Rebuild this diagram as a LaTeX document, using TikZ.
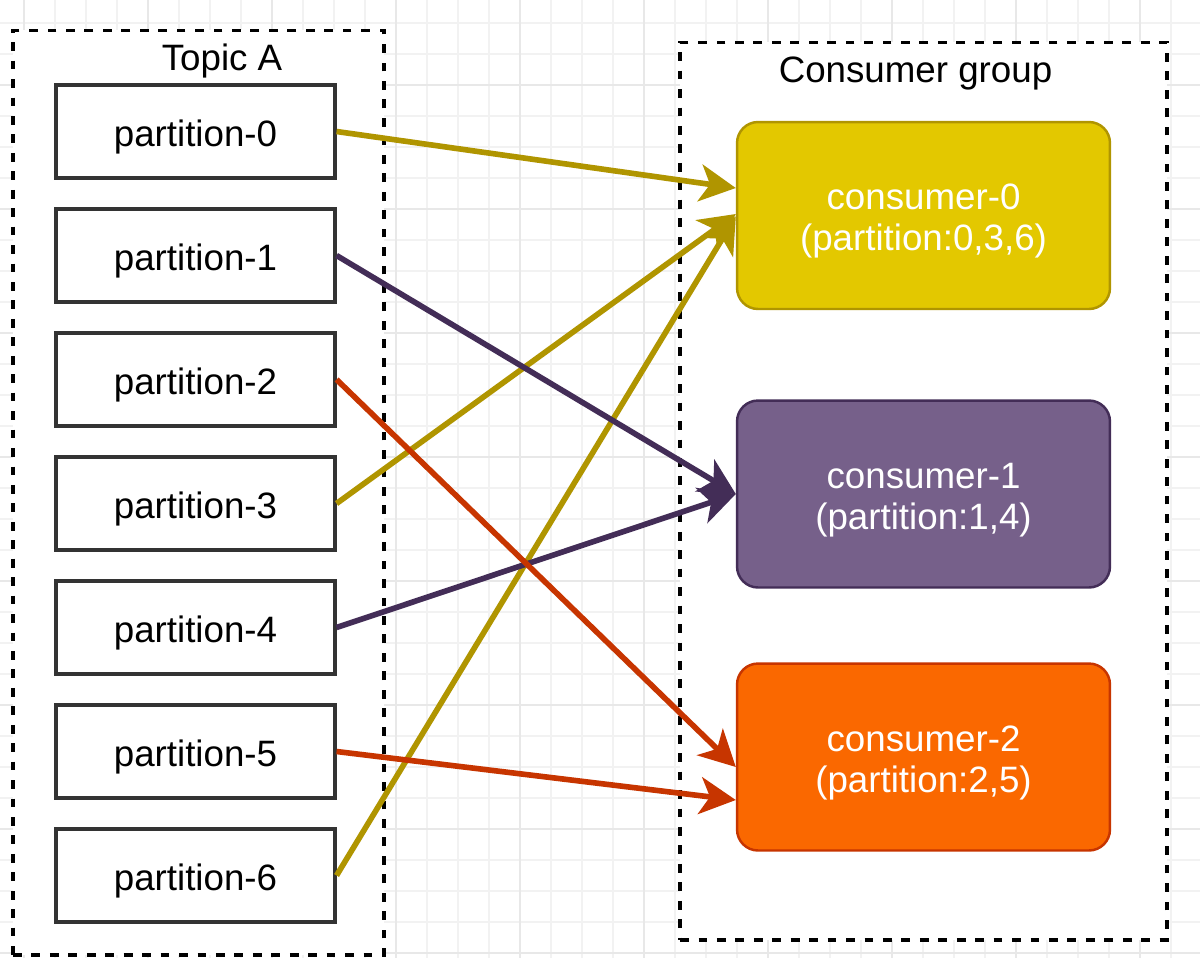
\documentclass[tikz,border=0pt]{standalone}
\usepackage{fontspec}
\setmainfont{Liberation Sans}
\usepackage{xcolor}
\usetikzlibrary{arrows.meta}

\definecolor{yellowfill}{HTML}{E3C800}
\definecolor{yellowline}{HTML}{B09500}
\definecolor{purplefill}{HTML}{76608A}
\definecolor{purpleline}{HTML}{432D57}
\definecolor{orangefill}{HTML}{FA6800}
\definecolor{orangeline}{HTML}{C73500}

\begin{document}
\begin{tikzpicture}[
    x=0.02cm, y=-0.02cm,
    every node/.style={font=\fontsize{20.9}{23.3}\selectfont},
    gridline/.style={draw=black!5, line width=0.6pt},
    gridmajor/.style={draw=black!9, line width=0.6pt},
    group/.style={rectangle, draw, fill=white, dash pattern=on 5pt off 5.5pt, line width=1.8pt},
    part/.style={rectangle, draw=black!80, fill=white, line width=1.8pt, minimum width=5.58cm, minimum height=1.86cm, inner sep=0pt, text height=20.9pt, text depth=4.4pt},
    consumer/.style={rectangle, rounded corners=0.42cm, line width=1.4pt, minimum width=7.46cm, minimum height=3.74cm, align=center, text=white, text height=44.6pt, text depth=4.4pt},
    feed/.style={-{Stealth[length=0.72cm, width=0.74cm, inset=0.2cm]}, line width=3.2pt},
]

\useasboundingbox[fill=white] (0,0) rectangle (1200,958);

% background grid
\foreach \gx in {24,55,...,1200} \draw[gridline] (\gx,0) -- (\gx,958);
\foreach \gy in {23,54,...,958} \draw[gridline] (0,\gy) -- (1200,\gy);
\foreach \gx in {24,148,...,1200} \draw[gridmajor] (\gx,0) -- (\gx,958);
\foreach \gy in {85,209,...,958} \draw[gridmajor] (0,\gy) -- (1200,\gy);

% groups
\node[group, minimum width=7.42cm, minimum height=18.5cm] (topic) at (198.5, 492.5) {};
\node[anchor=base] (topiclabel) at (222, 70) {Topic A};
\node[group, minimum width=9.74cm, minimum height=17.96cm] (cgroup) at (923.5, 491) {};
\node[anchor=base] (cgrouplabel) at (915.5, 82) {Consumer group};

% partitions
\node[part] (p0) at (195.5, 131.5) {partition-0};
\node[part] (p1) at (195.5, 255.5) {partition-1};
\node[part] (p2) at (195.5, 379.5) {partition-2};
\node[part] (p3) at (195.5, 503.5) {partition-3};
\node[part] (p4) at (195.5, 627.5) {partition-4};
\node[part] (p5) at (195.5, 751.5) {partition-5};
\node[part] (p6) at (195.5, 875.5) {partition-6};

% consumers
\node[consumer, fill=yellowfill, draw=yellowline] (c0) at (923.5, 215.5) {consumer-0\\(partition:0,3,6)};
\node[consumer, fill=purplefill, draw=purpleline] (c1) at (923.5, 494) {consumer-1\\(partition:1,4)};
\node[consumer, fill=orangefill, draw=orangeline] (c2) at (923.5, 757) {consumer-2\\(partition:2,5)};

% assignments
\draw[feed, yellowline] (p0.east) -- ([yshift=0.55cm]c0.west);
\draw[feed, yellowline] (p3.east) -- ([yshift=0.03cm]c0.west);
\draw[feed, yellowline] (p6.east) -- ([yshift=-0.02cm]c0.west);
\draw[feed, purpleline] (p1.east) -- (c1.west);
\draw[feed, purpleline] (p4.east) -- (c1.west);
\draw[feed, orangeline] (p2.east) -- ([yshift=-0.2cm]c2.west);
\draw[feed, orangeline] (p5.east) -- ([yshift=-0.86cm]c2.west);

\end{tikzpicture}
\end{document}
